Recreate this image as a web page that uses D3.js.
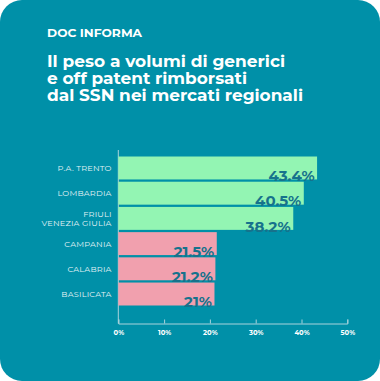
<!DOCTYPE html>
<html><head><meta charset="utf-8">
<script src="https://cdn.jsdelivr.net/npm/d3@7"></script>
<style>
html,body{margin:0;padding:0;background:#fff;}
svg{display:block;}
</style></head>
<body><svg id="c" width="380" height="381"></svg>
<script>
const categories = ["P.A. TRENTO", "LOMBARDIA", "FRIULI\nVENEZIA GIULIA", "CAMPANIA", "CALABRIA", "BASILICATA"];
const values = [43.4, 40.5, 38.2, 21.5, 21.2, 21];
const valueLabels = ["43.4%", "40.5%", "38.2%", "21.5%", "21.2%", "21%"];
const groups = ["high", "high", "high", "low", "low", "low"];
const tickValues = [0, 10, 20, 30, 40, 50];
const titleLines = ["Il peso a volumi di generici", "e off patent rimborsati", "dal SSN nei mercati regionali"];
const kicker = "DOC INFORMA";

const W = 380, H = 381;
const svg = d3.select("#c");
const bg = "#0090a8";
svg.append("rect").attr("x",0).attr("y",0).attr("width",W).attr("height",H)
  .attr("rx",22).attr("ry",22).attr("fill",bg);

const font = "Montserrat, 'DejaVu Sans', sans-serif";
svg.append("text").attr("x",47).attr("y",37.3).text(kicker)
  .attr("fill","#fff").attr("font-family",font).attr("font-weight","bold")
  .attr("font-size",10).attr("textLength",95).attr("lengthAdjust","spacingAndGlyphs");

const tl = [238, 200, 256];
titleLines.forEach((t,i)=>{
  svg.append("text").attr("x",47).attr("y",67.4+i*16.85).text(t)
    .attr("fill","#fff").attr("font-family",font).attr("font-weight","bold")
    .attr("font-size",16.5).attr("textLength",tl[i]).attr("lengthAdjust","spacingAndGlyphs");
});

const x = d3.scaleLinear().domain([0,50]).range([118.3,347.3]);
const y = d3.scaleBand().domain(categories).range([155.5,306.5]).paddingInner(0.09).paddingOuter(0.04);
const color = d => d==="high" ? "#93f5b3" : "#f1a0ae";

svg.append("line").attr("x1",118.3).attr("x2",118.3).attr("y1",150).attr("y2",323.5)
  .attr("stroke","#a9d3dc").attr("stroke-width",1);

const g = svg.append("g");
categories.forEach((c,i)=>{
  g.append("rect").attr("x",x(0)).attr("y",y(c)).attr("width",x(values[i])-x(0))
    .attr("height",y.bandwidth()).attr("fill",color(groups[i]));
  g.append("text").attr("x",x(values[i])-2.5).attr("y",y(c)+y.bandwidth()+1.8)
    .attr("text-anchor","end").text(valueLabels[i])
    .attr("fill","#16728c").attr("font-family",font).attr("font-weight","bold")
    .attr("font-size",15);
});

categories.forEach((c,i)=>{
  const lines = c.split("\n");
  const cy = y(c)+y.bandwidth()/2;
  lines.forEach((ln,j)=>{
    svg.append("text").attr("x",111.7)
      .attr("y", cy + (j-(lines.length-1)/2)*9.5 + 3)
      .attr("text-anchor","end").text(ln)
      .attr("fill","#e3f3f6").attr("font-family",font).attr("font-size",8.2)
      .attr("letter-spacing",0.2);
  });
});

const ax = svg.append("g").attr("transform","translate(0,323.5)")
  .call(d3.axisTop(x).tickValues(tickValues).tickSize(4).tickFormat(d=>d+"%"));
ax.select(".domain").attr("stroke","#a9d3dc");
ax.selectAll(".tick line").attr("stroke","#a9d3dc");
ax.selectAll(".tick text").attr("y",9).attr("dy","0.32em")
  .attr("fill","#fff").attr("font-family",font).attr("font-weight","bold").attr("font-size",6.8);
</script></body></html>
